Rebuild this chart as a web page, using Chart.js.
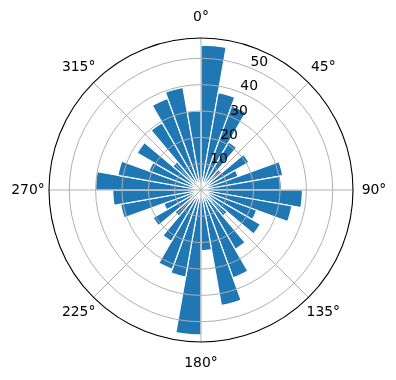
<!DOCTYPE html>
<html>
<head>
<meta charset="utf-8">
<script src="https://cdn.jsdelivr.net/npm/chart.js@4/dist/chart.umd.min.js"></script>
<style>
  html, body { margin: 0; padding: 0; background: #ffffff; }
  #wrap { width: 396px; height: 380px; }
</style>
</head>
<body>
<div id="wrap"><canvas id="c" width="396" height="380"></canvas></div>
<script>
// Bar directions (degrees, clockwise from north)
const directions = [0, 10, 20, 30, 40, 50, 60, 70, 80, 90, 100, 110,
                    120, 130, 140, 150, 160, 170, 180, 190, 200, 210, 220, 230,
                    240, 250, 260, 270, 280, 290, 300, 310, 320, 330, 340, 350];
// Bar lengths
const values = [55, 37.5, 34, 21, 10, 21, 15, 31.5, 30.5, 38.5, 35, 22.5,
                26, 13, 26, 35.5, 44.5, 23, 55, 33.5, 32, 22.5, 13, 21,
                15, 31, 33.5, 40, 32, 21, 28, 14, 29.5, 37, 39.5, 30];
// Radial tick labels
const radialTicks = [10, 20, 30, 40, 50];
// Angular tick labels
const angleTicks = [0, 45, 90, 135, 180, 225, 270, 315];
const angleTickLabels = ['0°', '45°', '90°', '135°', '180°', '225°', '270°', '315°'];
const radialMax = 57.7;

const FONT = '13.9px "DejaVu Sans", sans-serif';

const polarGrid = {
  id: 'polarGrid',
  afterDatasetsDraw(chart) {
    const s = chart.scales.r;
    const ctx = chart.ctx;
    const cx = s.xCenter, cy = s.yCenter, R = s.drawingArea;
    ctx.save();
    // grid rings
    ctx.strokeStyle = '#b0b0b0';
    ctx.lineWidth = 1;
    radialTicks.forEach(t => {
      const r = s.getDistanceFromCenterForValue(t);
      ctx.beginPath();
      ctx.arc(cx, cy, r, 0, Math.PI * 2);
      ctx.stroke();
    });
    // angle lines
    angleTicks.forEach(a => {
      const rad = (a - 90) * Math.PI / 180;
      ctx.beginPath();
      ctx.moveTo(cx, cy);
      ctx.lineTo(cx + R * Math.cos(rad), cy + R * Math.sin(rad));
      ctx.stroke();
    });
    // outer spine
    ctx.strokeStyle = '#000000';
    ctx.lineWidth = 1.1;
    ctx.beginPath();
    ctx.arc(cx, cy, R, 0, Math.PI * 2);
    ctx.stroke();
    // angle labels
    ctx.fillStyle = '#000000';
    ctx.font = FONT;
    ctx.textAlign = 'center';
    ctx.textBaseline = 'middle';
    angleTicks.forEach((a, i) => {
      const rad = (a - 90) * Math.PI / 180;
      const rr = R + 21;
      ctx.fillText(angleTickLabels[i], cx + rr * Math.cos(rad), cy + rr * Math.sin(rad));
    });
    // radial labels at 22.5 deg
    ctx.textAlign = 'left';
    ctx.textBaseline = 'bottom';
    const lr = (22.5 - 90) * Math.PI / 180;
    radialTicks.forEach(t => {
      const r = s.getDistanceFromCenterForValue(t);
      ctx.fillText(String(t), cx + r * Math.cos(lr) - 1, cy + r * Math.sin(lr) + 1);
    });
    ctx.restore();
  }
};

new Chart(document.getElementById('c'), {
  type: 'polarArea',
  data: {
    labels: directions.map(d => d + '°'),
    datasets: [{
      data: values,
      backgroundColor: '#1f77b4',
      borderColor: '#ffffff',
      borderWidth: 1.2
    }]
  },
  options: {
    responsive: false,
    devicePixelRatio: 1,
    animation: false,
    startAngle: 0,
    layout: { padding: { left: 49, right: 43, top: 38, bottom: 38 } },
    plugins: { legend: { display: false }, tooltip: { enabled: false } },
    scales: {
      r: {
        min: 0,
        max: radialMax,
        ticks: { display: false, stepSize: 10 },
        grid: { display: false },
        angleLines: { display: false },
        pointLabels: { display: false }
      }
    }
  },
  plugins: [polarGrid]
});
</script>
</body>
</html>
